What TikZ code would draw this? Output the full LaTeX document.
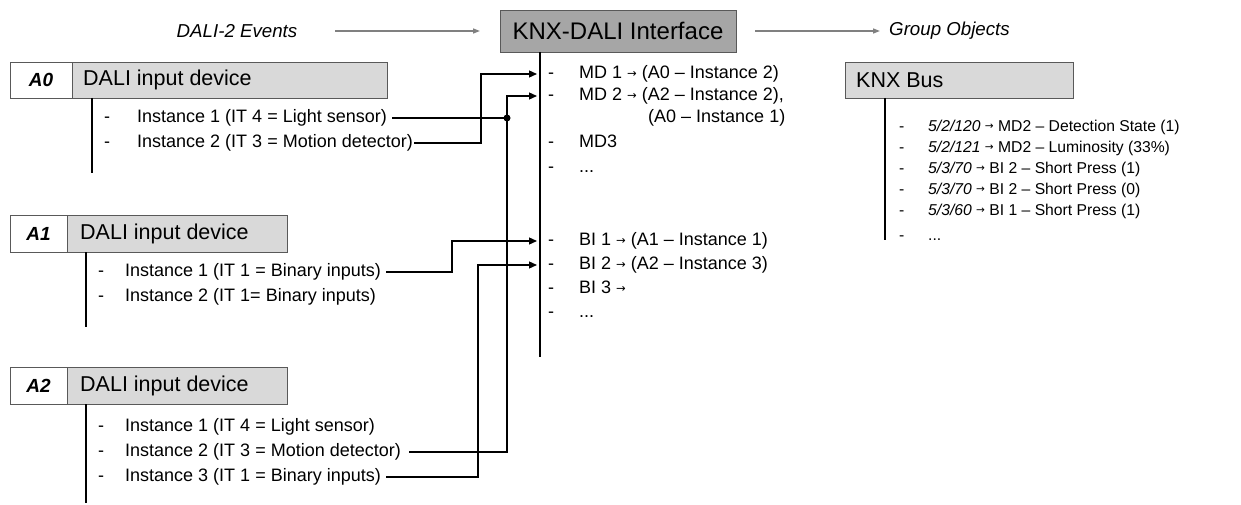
\documentclass[tikz,border=0pt]{standalone}
\usepackage{fontspec}
\setmainfont{Liberation Sans}
\newfontfamily\symfont{DejaVu Sans}
\usetikzlibrary{arrows.meta}
\definecolor{boxgray}{HTML}{D9D9D9}
\definecolor{titlegray}{HTML}{A6A6A6}
\definecolor{arrgray}{HTML}{808080}
\definecolor{edgegray}{HTML}{595959}
\newcommand\rarr{{\symfont\fontsize{11.5}{12}\selectfont\raisebox{0.12em}{→}}}
\newcommand\rarrs{{\symfont\fontsize{10.5}{11}\selectfont\raisebox{0.12em}{→}}}
\begin{document}
\begin{tikzpicture}[x=1pt,y=-1pt,
  txt/.style={anchor=west,inner sep=0pt,font=\fontsize{18}{20}\selectfont,text height=13pt,text depth=3.5pt},
  dsh/.style={anchor=west,inner sep=0pt,font=\fontsize{18}{20}\selectfont,text height=13pt,text depth=3.5pt},
  stxt/.style={anchor=west,inner sep=0pt,font=\fontsize{15.7}{18}\selectfont,text height=11.5pt,text depth=3pt},
  lbl/.style={inner sep=0pt,font=\fontsize{18.7}{20}\selectfont\itshape},
  hdr/.style={anchor=west,inner sep=0pt,font=\fontsize{21.5}{24}\selectfont},
  idf/.style={font=\fontsize{19}{22}\selectfont\bfseries\itshape},
  cellbox/.style={draw=edgegray,line width=0.8pt,inner sep=0pt},
  bar/.style={line width=1.3pt},
  conn/.style={line width=1.3pt},
  tip/.style={-{Triangle[length=8pt,width=7pt]}},
  grayarr/.style={draw=arrgray,line width=1.3pt,-{Triangle[length=7pt,width=5pt]}}
]
\useasboundingbox (0,0) rectangle (1241,505);

% top labels and interface
\node[lbl] (ev) at (237,31) {DALI-2 Events};
\node[lbl,anchor=west] (go) at (889,31) {Group Objects};
\node[cellbox,fill=titlegray,minimum width=236pt,minimum height=42pt,
      font=\fontsize{24}{26}\selectfont] (knxdali) at (618,31) {KNX-DALI Interface};
\coordinate (ev1s) at (335,31);
\coordinate (ev1e) at (480,31);
\coordinate (ev2s) at (755,31);
\coordinate (ev2e) at (880,31);
\draw[grayarr] (ev1s) -- (ev1e);
\draw[grayarr] (ev2s) -- (ev2e);

% device boxes
\node[cellbox,fill=white,minimum width=62pt,minimum height=36pt,idf] (a0id) at (41,80) {A0};
\node[cellbox,fill=boxgray,minimum width=315pt,minimum height=36pt,anchor=west] (a0) at (72,80) {};
\node[hdr] (a0t) at (83,80) {DALI input device};

\node[cellbox,fill=white,minimum width=57pt,minimum height=37pt,idf] (a1id) at (38.5,233.5) {A1};
\node[cellbox,fill=boxgray,minimum width=220pt,minimum height=37pt,anchor=west] (a1) at (67,233.5) {};
\node[hdr] (a1t) at (80,233.5) {DALI input device};

\node[cellbox,fill=white,minimum width=57pt,minimum height=37pt,idf] (a2id) at (38.5,385.5) {A2};
\node[cellbox,fill=boxgray,minimum width=220pt,minimum height=37pt,anchor=west] (a2) at (67,385.5) {};
\node[hdr] (a2t) at (80,385.5) {DALI input device};

\node[cellbox,fill=boxgray,minimum width=228pt,minimum height=36pt,anchor=west] (bus) at (845,80) {};
\node[hdr] (bust) at (856,80) {KNX Bus};

% vertical bars
\draw[bar] (92,98) -- (92,173);
\draw[bar] (86,252) -- (86,327);
\draw[bar] (86,404) -- (86,503);
\draw[bar] (540,52) -- (540,357);
\draw[bar] (885,98) -- (885,240);

% A0 list
\node[dsh] at (104,118) {-}; \node[txt] (a0i1) at (137,118) {Instance 1 (IT 4 = Light sensor)};
\node[dsh] at (104,143) {-}; \node[txt] (a0i2) at (137,143) {Instance 2 (IT 3 = Motion detector)};
% A1 list
\node[dsh] at (98,272) {-}; \node[txt] (a1i1) at (125,272) {Instance 1 (IT 1 = Binary inputs)};
\node[dsh] at (98,297) {-}; \node[txt] (a1i2) at (125,297) {Instance 2 (IT 1= Binary inputs)};
% A2 list
\node[dsh] at (98,427) {-}; \node[txt] (a2i1) at (125,427) {Instance 1 (IT 4 = Light sensor)};
\node[dsh] at (98,452) {-}; \node[txt] (a2i2) at (125,452) {Instance 2 (IT 3 = Motion detector)};
\node[dsh] at (98,477) {-}; \node[txt] (a2i3) at (125,477) {Instance 3 (IT 1 = Binary inputs)};

% interface list
\node[dsh] at (548,74) {-}; \node[txt] (md1) at (579,74) {MD 1 \rarr{} (A0 – Instance 2)};
\node[dsh] at (548,96) {-}; \node[txt] (md2) at (579,96) {MD 2 \rarr{} (A2 – Instance 2),};
\node[txt] (md2b) at (648,118) {(A0 – Instance 1)};
\node[dsh] at (548,143) {-}; \node[txt] (md3) at (579,143) {MD3};
\node[dsh] at (548,168) {-}; \node[txt] (mdx) at (579,168) {...};
\node[dsh] at (548,241) {-}; \node[txt] (bi1) at (579,241) {BI 1 \rarr{} (A1 – Instance 1)};
\node[dsh] at (548,265) {-}; \node[txt] (bi2) at (579,265) {BI 2 \rarr{} (A2 – Instance 3)};
\node[dsh] at (548,289) {-}; \node[txt] (bi3) at (579,289) {BI 3 \rarr};
\node[dsh] at (548,313) {-}; \node[txt] (bix) at (579,313) {...};

% KNX bus list
\node[stxt] at (899,127) {-}; \node[stxt] (g1) at (928,127) {\textit{5/2/120} \rarrs{} MD2 – Detection State (1)};
\node[stxt] at (899,148) {-}; \node[stxt] (g2) at (928,148) {\textit{5/2/121} \rarrs{} MD2 – Luminosity (33\%)};
\node[stxt] at (899,169) {-}; \node[stxt] (g3) at (928,169) {\textit{5/3/70} \rarrs{} BI 2 – Short Press (1)};
\node[stxt] at (899,190) {-}; \node[stxt] (g4) at (928,190) {\textit{5/3/70} \rarrs{} BI 2 – Short Press (0)};
\node[stxt] at (899,211) {-}; \node[stxt] (g5) at (928,211) {\textit{5/3/60} \rarrs{} BI 1 – Short Press (1)};
\node[stxt] at (899,236) {-}; \node[stxt] (gx) at (928,236) {...};

% arrow targets on the interface bar
\coordinate (tmd1) at (537,74);
\coordinate (tmd2) at (537,96);
\coordinate (tbi1) at (537,241);
\coordinate (tbi2) at (537,265);
\coordinate (dot) at (507,118);

% connectors
\draw[conn] ([xshift=5pt]a0i1.east) -- (dot);
\fill (dot) circle (3.5pt);
\draw[conn,tip] ([xshift=1pt]a0i2.east) -| (481,108) |- (tmd1);
\draw[conn,tip] ([xshift=8pt]a2i2.east) -| (dot) |- (tmd2);
\draw[conn,tip] ([xshift=5pt]a1i1.east) -| (452,256) |- (tbi1);
\draw[conn,tip] ([xshift=5pt]a2i3.east) -| (478,370) |- (tbi2);
\end{tikzpicture}
\end{document}
